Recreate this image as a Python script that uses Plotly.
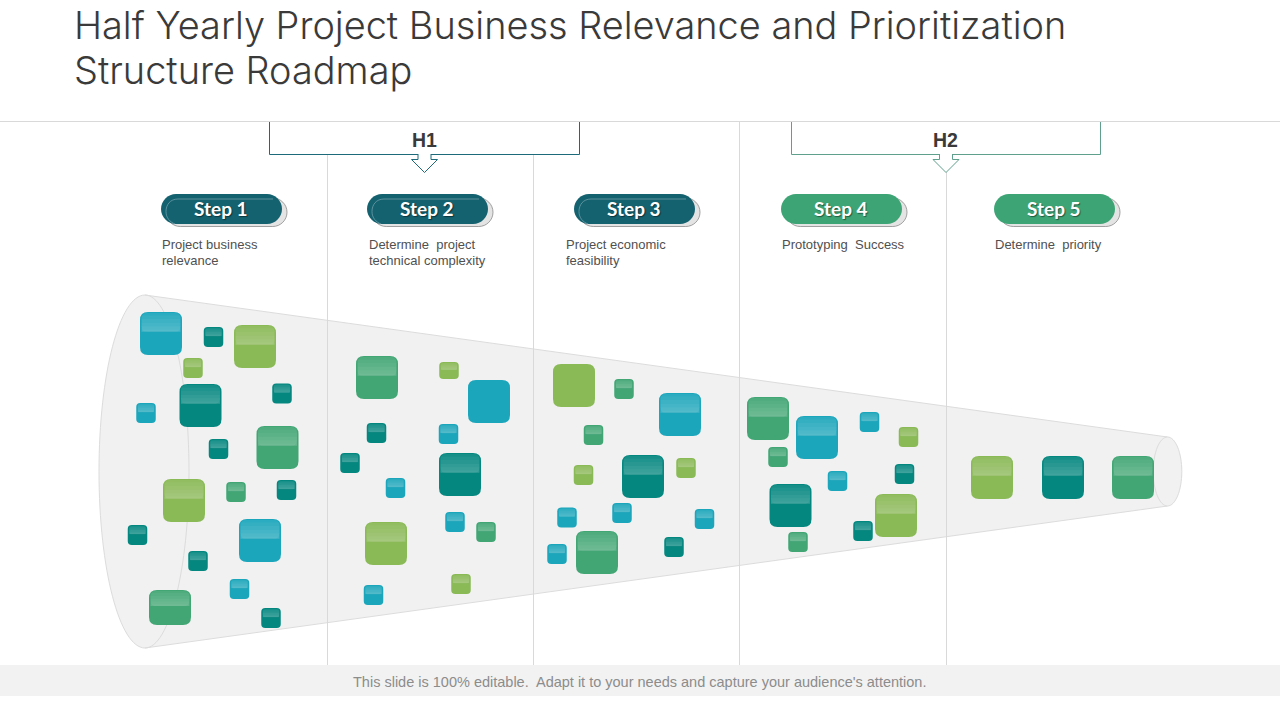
import plotly.graph_objects as go

title_lines = ['Half Yearly Project Business Relevance and Prioritization', 'Structure Roadmap']
footer = "This slide is 100% editable.  Adapt it to your needs and capture your audience's attention."

halves = ['H1', 'H2']
half_left = [269.5, 791.5]
half_right = [579.5, 1100.5]
half_arrow = [424.5, 946]
half_color = ['#1d6a7a', '#5fa08c']

steps = ['Step 1', 'Step 2', 'Step 3', 'Step 4', 'Step 5']
step_left = [161, 367, 574, 781, 994]
step_color = ['#14616f', '#14616f', '#14616f', '#3da475', '#3da475']
step_text = [['Project business', 'relevance'], ['Determine  project', 'technical complexity'],
             ['Project economic', 'feasibility'], ['Prototyping  Success'], ['Determine  priority']]
text_left = [162, 369, 566, 782, 995]

dividers = [327.5, 533.5, 739.5, 946.5]
divider_top = [155, 155, 122, 172]

blue = '#1ba6bc'
lime = '#8aba56'
teal = '#04877f'
green = '#41a674'

big_x = [161, 255, 200.5, 277.5, 184, 260, 170,
         377, 489, 460, 386,
         574, 680, 643, 597,
         768, 817, 790.5, 896,
         992, 1063, 1133]
big_y = [333.5, 346.5, 405.5, 447.5, 500.5, 540.5, 607.5,
         377.5, 401.5, 474.5, 543.5,
         385.5, 414.5, 476.5, 552.5,
         418.5, 437.5, 505.5, 515.5,
         477.5, 477.5, 477.5]
big_color = [blue, lime, teal, green, lime, blue, green,
             green, blue, teal, lime,
             lime, blue, teal, green,
             green, blue, teal, lime,
             lime, teal, green]
big_flat = [8, 11]

small_x = [213.5, 193, 282, 146, 218.5, 236, 286.5, 137.5, 198, 239.5, 271,
           449, 376.5, 448.5, 350, 395.5, 455, 486, 373.5, 461,
           624, 593.5, 583.5, 686, 567, 622, 704.5, 557, 674,
           869.5, 908.5, 778, 837.5, 904.5, 863, 798]
small_y = [337, 368, 393.5, 413, 449, 492, 490, 535, 561, 589, 618,
           370.5, 433, 434, 463, 488, 522, 532, 595, 584,
           389, 435, 475, 468, 517.5, 513, 519, 554, 547,
           422, 437, 457, 481, 474, 531, 542]
small_color = [teal, lime, teal, blue, teal, green, teal, teal, teal, blue, teal,
               lime, teal, blue, teal, blue, blue, green, blue, lime,
               green, green, lime, lime, blue, blue, blue, blue, teal,
               blue, lime, green, blue, teal, teal, green]


def rounded(x0, y0, x1, y1, r):
    return (f'M{x0+r},{y0} L{x1-r},{y0} Q{x1},{y0} {x1},{y0+r} L{x1},{y1-r} Q{x1},{y1} {x1-r},{y1} '
            f'L{x0+r},{y1} Q{x0},{y1} {x0},{y1-r} L{x0},{y0+r} Q{x0},{y0} {x0+r},{y0} Z')


def pill(x0, y0, x1, y1):
    r = (y1 - y0) / 2
    k = r * 0.45
    return (f'M{x0+r},{y0} L{x1-r},{y0} C{x1-k},{y0} {x1},{y0+k} {x1},{y0+r} C{x1},{y1-k} {x1-k},{y1} {x1-r},{y1} '
            f'L{x0+r},{y1} C{x0+k},{y1} {x0},{y1-k} {x0},{y0+r} C{x0},{y0+k} {x0+k},{y0} {x0+r},{y0} Z')


shapes = []


def add(path, fill=None, line=None, width=1, opacity=1):
    shapes.append(dict(type='path', path=path, xref='x', yref='y', fillcolor=fill or 'rgba(0,0,0,0)',
                       line=dict(color=line or 'rgba(0,0,0,0)', width=width if line else 0), opacity=opacity))


def square(cx, cy, w, h, r, color, flat=False):
    x0, y0, x1, y1 = cx - w/2, cy - h/2, cx + w/2, cy + h/2
    add(rounded(x0, y0, x1, y1, r), fill=color)
    if flat:
        return
    # gloss on the upper half, stacked strips fake the gradient
    gh = h * 0.46
    add(rounded(x0+1.5, y0+1, x1-1.5, y0+gh, r*0.7), fill='white', opacity=0.07)
    for f in [0.18, 0.36, 0.54, 0.72, 0.88]:
        top = y0 + gh * f
        add(f'M{x0+1.5},{top} L{x1-1.5},{top} L{x1-1.5},{y0+gh} L{x0+1.5},{y0+gh} Z', fill='white', opacity=0.045)


def half_ellipse(x, y0, y1, rx):
    ym = (y0 + y1) / 2
    ky = (y1 - y0) / 2 * 0.5523
    kx = rx * 0.5523
    return f'C{x+kx},{y0} {x+rx},{ym-ky} {x+rx},{ym} C{x+rx},{ym+ky} {x+kx},{y1} {x},{y1}'


# funnel
fx0, fx1 = 145, 1167.5
fy_top, fy_bot, fr_top, fr_bot = 295, 648, 437, 506
add(f'M{fx0},{fy_bot} ' + half_ellipse(fx0, fy_bot, fy_top, -46) + f' L{fx1},{fr_top} L{fx1},{fr_bot} Z',
    fill='#f1f1f1', line='#dcdcdc')
add(f'M{fx0},{fy_top} ' + half_ellipse(fx0, fy_top, fy_bot, 44), line='#dcdcdc')
add(f'M{fx1},{fr_top} ' + half_ellipse(fx1, fr_top, fr_bot, 14.3) + ' ' + half_ellipse(fx1, fr_bot, fr_top, -14.3) + ' Z',
    fill='#f1f1f1', line='#dcdcdc')

# footer band and rules
shapes.append(dict(type='rect', x0=0, x1=1280, y0=665, y1=696, xref='x', yref='y', fillcolor='#f2f2f2', line_width=0))
shapes.append(dict(type='line', x0=0, x1=1280, y0=121.5, y1=121.5, xref='x', yref='y', line=dict(color='#d9d9d9', width=1)))
for x, top in zip(dividers, divider_top):
    shapes.append(dict(type='line', x0=x, x1=x, y0=top, y1=665, xref='x', yref='y', line=dict(color='#d9d9d9', width=1)))

# H1 / H2 brackets
for left, right, mid, col in zip(half_left, half_right, half_arrow, half_color):
    add(f'M{left},122 L{left},154.5 L{right},154.5 L{right},122', line=col)
    add(f'M{mid-6.5},154 L{mid-6.5},159.5 L{mid-13},159.5 L{mid},172.5 L{mid+13},159.5 L{mid+6.5},159.5 L{mid+6.5},154',
        fill='white', line=col)

# step pills
for left, col in zip(step_left, step_color):
    add(pill(left+5, 198, left+126, 226.5), fill='#e4e4e4', line='#8a8a8a', width=0.8)
    add(pill(left, 194, left+121, 224), fill=col)
    if col == step_color[0]:
        # inner outline only shows along the left end and the top
        add(f'M{left+112},199 L{left+17},199 C{left+9},199 {left+5},205 {left+5},211.5 C{left+5},218 {left+9},222 {left+14},224',
            line='#6f9ea8', width=0.8)

for x, y, col in zip(small_x, small_y, small_color):
    h = 17 if (x, y) == (449, 370.5) else 20
    square(x, y, 19.5, h, 4, col)
for i, (x, y, col) in enumerate(zip(big_x, big_y, big_color)):
    h = 35 if (x, y) == (170, 607.5) else 43
    square(x, y, 42, h, 8, col, flat=i in big_flat)

annotations = []


def label(x, y, text, size, color, family='Liberation Sans', anchor='left', **font):
    annotations.append(dict(x=x, y=y, xref='x', yref='y', text=text, showarrow=False, xanchor=anchor, yanchor='middle',
                            align=anchor, font=dict(family=family, size=size, color=color, **font)))


label(72, 25, title_lines[0], 37.9, '#3a3a3a', family='Inter', weight=300)
label(72, 70, title_lines[1], 37.9, '#3a3a3a', family='Inter', weight=300)
for name, mid in zip(halves, half_arrow):
    label(mid - 0.5, 140, name, 19.5, '#3a3a3a', anchor='center', weight='bold')
for name, left in zip(steps, step_left):
    label(left + 59.5, 208.5, name, 19, 'white', family='Lato', anchor='center', weight='bold',
          shadow='1px 1px 1px rgba(0,0,0,0.45)')
for lines, left in zip(step_text, text_left):
    for n, text in enumerate(lines):
        label(left - 2, 244 + 16 * n, text, 13, '#505050')
label(639, 682, footer, 14.5, '#8c8c8c', anchor='center')

fig = go.Figure()
fig.update_layout(
    width=1280, height=720, margin=dict(l=0, r=0, t=0, b=0),
    paper_bgcolor='white', plot_bgcolor='white', showlegend=False,
    xaxis=dict(range=[0, 1280], visible=False, fixedrange=True),
    yaxis=dict(range=[720, 0], visible=False, fixedrange=True),
    shapes=shapes, annotations=annotations,
)

fig.write_html("out.html", config=dict(displayModeBar=False), post_script="document.body.style.margin='0';")
